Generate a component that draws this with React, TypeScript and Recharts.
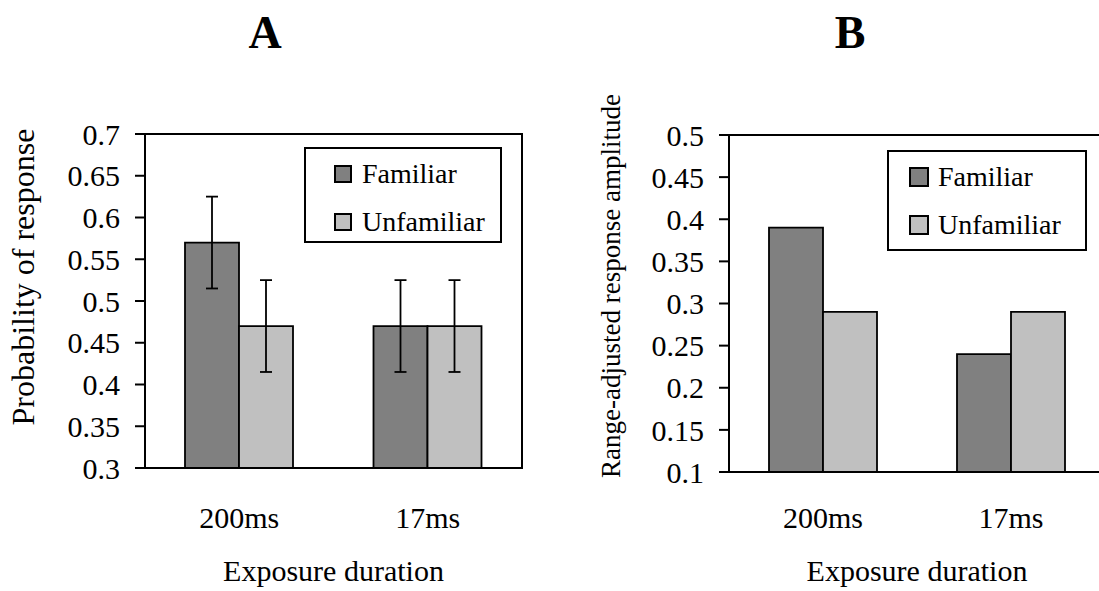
import React from 'react';
import { BarChart, Bar, XAxis, YAxis, ErrorBar, ReferenceArea, Legend, Label } from 'recharts';

const categories = ['200ms', '17ms'];
const seriesNames = ['Familiar', 'Unfamiliar'];
const familiarA = [0.57, 0.47];
const unfamiliarA = [0.47, 0.47];
const familiarErrA = [0.055, 0.055];
const unfamiliarErrA = [0.055, 0.055];
const ticksA = [0.3, 0.35, 0.4, 0.45, 0.5, 0.55, 0.6, 0.65, 0.7];
const familiarB = [0.39, 0.24];
const unfamiliarB = [0.29, 0.29];
const ticksB = [0.1, 0.15, 0.2, 0.25, 0.3, 0.35, 0.4, 0.45, 0.5];
const edgeTicks = [0, 1, 2];

const FONT = "'Liberation Serif', 'Times New Roman', serif";
const DARK = '#808080';
const LIGHT = '#c0c0c0';
const colors = [DARK, LIGHT];

const dataA = categories.map((name, i) => ({
  name,
  familiar: familiarA[i],
  unfamiliar: unfamiliarA[i],
  familiarErr: familiarErrA[i],
  unfamiliarErr: unfamiliarErrA[i],
}));
const dataB = categories.map((name, i) => ({
  name,
  familiar: familiarB[i],
  unfamiliar: unfamiliarB[i],
}));

type LegendCfg = {
  left: number; top: number; width: number; height: number;
  padLeft: number; sw: number; gap: number; rows: number[];
};

const makeLegend = (cfg: LegendCfg) => () => (
  <div
    style={{
      position: 'relative',
      width: cfg.width,
      height: cfg.height,
      border: '2px solid #000',
      boxSizing: 'border-box',
      background: '#fff',
      fontFamily: FONT,
      fontSize: 28,
      color: '#000',
    }}
  >
    {seriesNames.map((n, i) => (
      <div
        key={n}
        style={{
          position: 'absolute',
          left: cfg.padLeft,
          top: cfg.rows[i] - 18,
          height: 36,
          display: 'flex',
          alignItems: 'center',
          whiteSpace: 'nowrap',
          lineHeight: '36px',
        }}
      >
        <span
          style={{
            display: 'inline-block',
            width: cfg.sw,
            height: cfg.sw,
            background: colors[i],
            border: '2px solid #000',
            boxSizing: 'border-box',
            marginRight: cfg.gap,
          }}
        />
        <span>{n}</span>
      </div>
    ))}
  </div>
);

type PanelProps = {
  left: number;
  data: any[];
  ticks: number[];
  domain: [number, number];
  margin: { top: number; right: number; bottom: number; left: number };
  xHeight: number;
  tickMarginX: number;
  yLabel: string;
  yLabelSize: number;
  yLabelX: number;
  yLabelY: number;
  legend: LegendCfg;
  errors: boolean;
};

const Panel = (p: PanelProps) => {
  const axisStroke = { stroke: '#000', strokeWidth: 2 };
  return (
    <div style={{ position: 'absolute', left: p.left, top: 0 }}>
      <BarChart
        width={560}
        height={591}
        data={p.data}
        margin={p.margin}
        barGap={0}
        barSize={54}
      >
        <XAxis
          xAxisId="edge"
          type="number"
          domain={[0, 2]}
          ticks={edgeTicks}
          height={0}
          tickSize={10}
          tickFormatter={() => ''}
          axisLine={false}
          tickLine={axisStroke}
          allowDataOverflow
        />
        <XAxis
          dataKey="name"
          height={p.xHeight}
          tickLine={false}
          axisLine={axisStroke}
          tickSize={10}
          tickMargin={p.tickMarginX}
          tick={{ fill: '#000', fontSize: 30, fontFamily: FONT }}
          interval={0}
        >
          <Label
            value="Exposure duration"
            position="insideBottom"
            offset={10}
            style={{ fill: '#000', fontSize: 30, fontFamily: FONT }}
          />
        </XAxis>
        <YAxis
          type="number"
          domain={p.domain}
          ticks={p.ticks}
          width={100}
          tickSize={10}
          tickMargin={15}
          axisLine={axisStroke}
          tickLine={axisStroke}
          tick={{ fill: '#000', fontSize: 30, fontFamily: FONT }}
          interval={0}
          allowDataOverflow
        >
          <Label
            content={() => (
              <text
                x={p.yLabelX}
                y={p.yLabelY}
                transform={`rotate(-90, ${p.yLabelX}, ${p.yLabelY})`}
                textAnchor="middle"
                fill="#000"
                fontSize={p.yLabelSize}
                fontFamily={FONT}
              >
                {p.yLabel}
              </text>
            )}
          />
        </YAxis>
        <ReferenceArea
          y1={p.domain[0]}
          y2={p.domain[1]}
          fill="none"
          fillOpacity={0}
          stroke="#000"
          strokeWidth={2}
          ifOverflow="visible"
        />
        <Bar dataKey="familiar" name={seriesNames[0]} fill={DARK} stroke="#000" strokeWidth={1.8} isAnimationActive={false}>
          {p.errors && (
            <ErrorBar dataKey="familiarErr" width={6} stroke="#000" strokeWidth={1.8} direction="y" isAnimationActive={false} />
          )}
        </Bar>
        <Bar dataKey="unfamiliar" name={seriesNames[1]} fill={LIGHT} stroke="#000" strokeWidth={1.8} isAnimationActive={false}>
          {p.errors && (
            <ErrorBar dataKey="unfamiliarErr" width={6} stroke="#000" strokeWidth={1.8} direction="y" isAnimationActive={false} />
          )}
        </Bar>
        <Legend
          layout="vertical"
          align="center"
          verticalAlign="middle"
          content={makeLegend(p.legend)}
          wrapperStyle={{ left: p.legend.left, top: p.legend.top, width: p.legend.width, height: p.legend.height }}
        />
      </BarChart>
    </div>
  );
};

export default function App() {
  return (
    <div
      style={{
        position: 'absolute',
        left: 0,
        top: 0,
        width: 1099,
        height: 591,
        overflow: 'hidden',
        background: '#fff',
        fontFamily: FONT,
      }}
    >
      <div style={{ position: 'absolute', left: 215, width: 100, top: 8, textAlign: 'center', fontSize: 46, fontWeight: 'bold', fontFamily: FONT, lineHeight: '50px' }}>A</div>
      <div style={{ position: 'absolute', left: 800, width: 100, top: 8, textAlign: 'center', fontSize: 46, fontWeight: 'bold', fontFamily: FONT, lineHeight: '50px' }}>B</div>
      <Panel
        left={0}
        data={dataA}
        ticks={ticksA}
        domain={[0.3, 0.7]}
        margin={{ top: 134, right: 38, bottom: 0, left: 45 }}
        xHeight={123}
        tickMarginX={29}
        yLabel="Probability of response"
        yLabelSize={32}
        yLabelX={34}
        yLabelY={277}
        legend={{ left: 304, top: 147, width: 198, height: 96, padLeft: 28, sw: 18, gap: 10, rows: [25, 73] }}
        errors
      />
      <Panel
        left={560}
        data={dataB}
        ticks={ticksB}
        domain={[0.1, 0.5]}
        margin={{ top: 135, right: 15, bottom: 0, left: 69 }}
        xHeight={119}
        tickMarginX={25}
        yLabel="Range-adjusted response amplitude"
        yLabelSize={27}
        yLabelX={60}
        yLabelY={286}
        legend={{ left: 327, top: 150, width: 200, height: 101, padLeft: 20, sw: 20, gap: 9, rows: [25, 73] }}
        errors={false}
      />
    </div>
  );
}
